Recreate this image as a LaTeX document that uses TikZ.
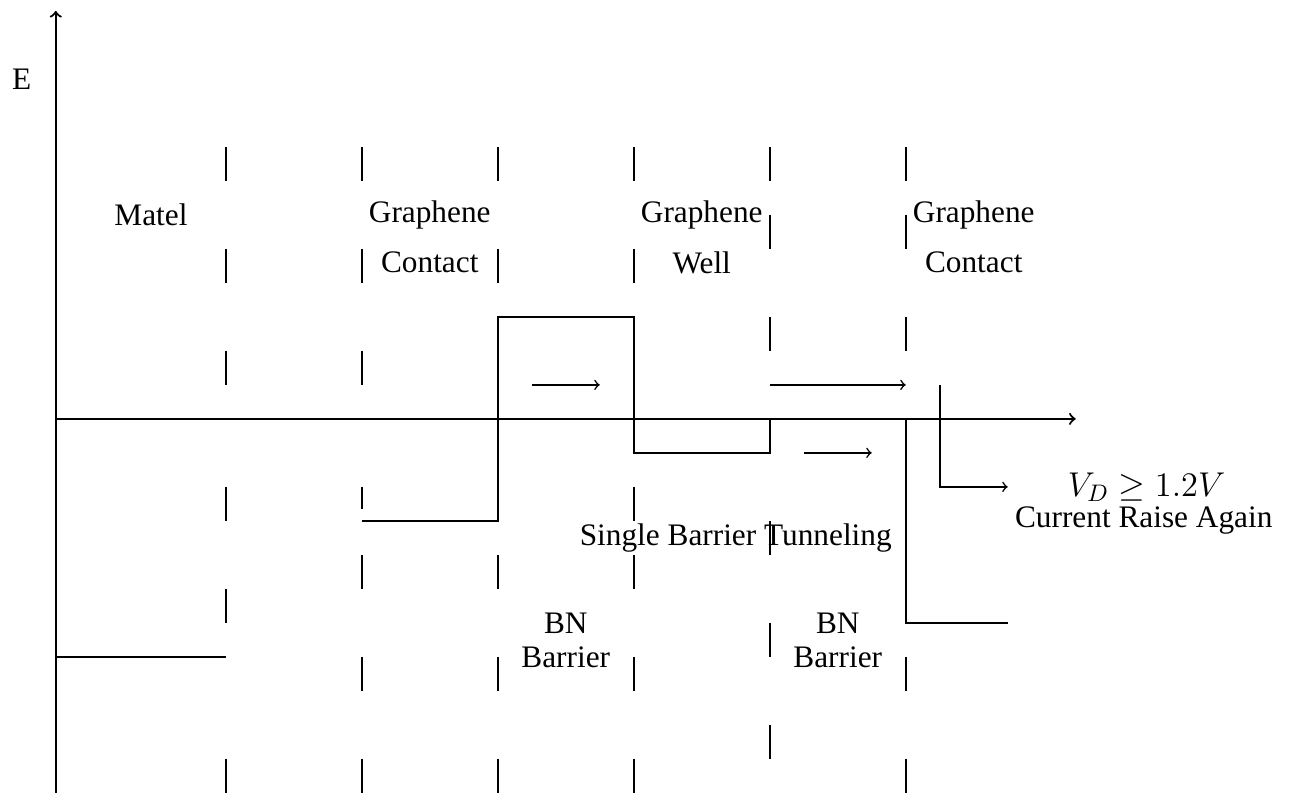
\documentclass[tikz,border=0pt]{standalone}
\usepackage{fontspec}
\setmainfont{Liberation Serif}
\begin{document}
\begin{tikzpicture}[
  font=\fontsize{13.1}{14.6}\selectfont,
  axisline/.style={line width=0.9pt,->},
  divider/.style={line width=0.9pt},
  band/.style={line width=0.9pt},
  flow/.style={line width=0.65pt,->},
  lbl/.style={inner sep=2pt}
]
\useasboundingbox (-0.82,-5.5) rectangle (18.21,6.16);
% axes
\coordinate (O) at (0,0);
\coordinate (Ytop) at (0,6);
\coordinate (Ybot) at (0,-5.5);
\coordinate (Xend) at (15,0);
\draw[axisline] (Ybot) -- (Ytop);
\draw[axisline] (O) -- (Xend);
\node[lbl] (E) at (-0.5,5) {E};
% dashed region boundaries
\foreach \x/\a/\b in {
  2.5/4/3.5, 2.5/2.5/2, 2.5/1/0.5, 2.5/-1/-1.5, 2.5/-2.5/-3, 2.5/-5/-5.5,
  4.5/4/3.5, 4.5/2.5/2, 4.5/1/0.5, 4.5/-1/-1.33, 4.5/-2/-2.5, 4.5/-3.5/-4, 4.5/-5/-5.5,
  6.5/4/3.5, 6.5/2.5/2, 6.5/-2/-2.5, 6.5/-3.5/-4, 6.5/-5/-5.5,
  8.5/4/3.5, 8.5/2.5/2, 8.5/-1/-1.5, 8.5/-2/-2.5, 8.5/-3.5/-4, 8.5/-5/-5.5,
  10.5/4/3.5, 10.5/3/2.5, 10.5/1.5/1, 10.5/-1.5/-2, 10.5/-3/-3.5, 10.5/-4.5/-5,
  12.5/4/3.5, 12.5/3/2.5, 12.5/1.5/1, 12.5/-3.5/-4, 12.5/-5/-5.5}
  \draw[divider] (\x,\a) -- (\x,\b);
% metal level
\coordinate (M0) at (0,-3.5);
\coordinate (M1) at (2.5,-3.5);
\draw[band] (M0) -- (M1);
% band profile
\draw[band] (4.5,-1.5) -- (6.5,-1.5) -- (6.5,1.5) -- (8.5,1.5) -- (8.5,-0.5)
  -- (10.5,-0.5) -- (10.5,0) -- (12.5,0) -- (12.5,-3) -- (14,-3);
% tunneling arrows
\coordinate (A1s) at (7,0.5);   \coordinate (A1e) at (8,0.5);
\coordinate (A2s) at (10.5,0.5); \coordinate (A2e) at (12.5,0.5);
\coordinate (A3s) at (11,-0.5);  \coordinate (A3e) at (12,-0.5);
\draw[flow] (A1s) -- (A1e);
\draw[flow] (A2s) -- (A2e);
\draw[flow] (A3s) -- (A3e);
\coordinate (B0) at (13,0.5);
\coordinate (B1) at (13,-1);
\coordinate (B2) at (14,-1);
\draw[flow] (B0) -- (B1) -- (B2);
% labels
\node[lbl] (matel) at (1.4,3) {Matel};
\node[lbl] (gc1a) at (5.5,3) {Graphene};
\node[lbl] (gc1b) at (5.5,2.3) {Contact};
\node[lbl] (gwa) at (9.5,3) {Graphene};
\node[lbl] (gwb) at (9.5,2.3) {Well};
\node[lbl] (gc2a) at (13.5,3) {Graphene};
\node[lbl] (gc2b) at (13.5,2.3) {Contact};
\node[lbl] (bn1a) at (7.5,-3) {BN};
\node[lbl] (bn1b) at (7.5,-3.5) {Barrier};
\node[lbl] (bn2a) at (11.5,-3) {BN};
\node[lbl] (bn2b) at (11.5,-3.5) {Barrier};
\node[lbl] (sbt) at (10,-1.75) {Single Barrier Tunneling};
\node[lbl,font=\fontsize{13.9}{15}\selectfont] (vd) at (16.04,-1) {$V_D \geq 1.2V$};
\node[lbl] (cra) at (16,-1.5) {Current Raise Again};
\end{tikzpicture}
\end{document}
